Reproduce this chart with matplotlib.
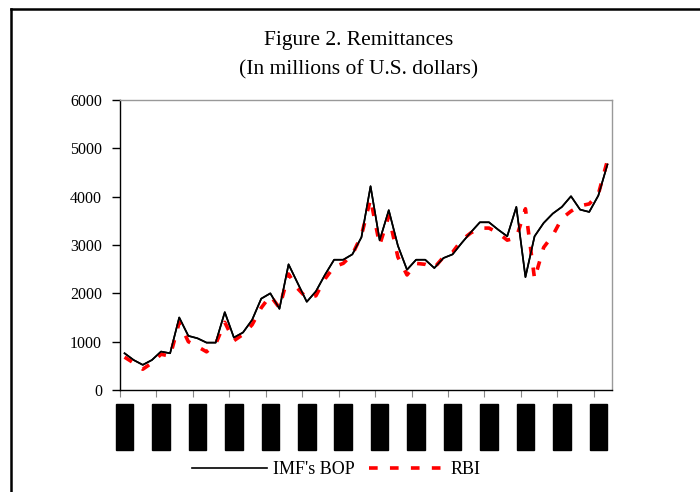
import matplotlib
matplotlib.use("Agg")
from matplotlib import pyplot as plt
from matplotlib.lines import Line2D

plt.rcParams['font.family'] = ['Liberation Serif', 'DejaVu Serif']

# quarterly remittances, millions of US$
imf_bop = [760, 620, 520, 620, 795, 760, 1500, 1120, 1070, 980,
           980, 1610, 1085, 1190, 1450, 1890, 2000, 1680, 2600, 2210,
           1825, 2040, 2385, 2695, 2695, 2806, 3160, 4216, 3097, 3720,
           2986, 2488, 2695, 2695, 2523, 2730, 2806, 3041, 3262, 3470,
           3470, 3318, 3180, 3788, 2336, 3180, 3456, 3650, 3788, 4009,
           3732, 3684, 4023, 4666]
rbi = [680, 560, 430, 560, 740, 700, 1400, 1000, 900, 790,
       950, 1400, 1020, 1150, 1350, 1700, 1950, 1700, 2400, 2100,
       1900, 1950, 2300, 2550, 2620, 2800, 3200, 3950, 3000, 3600,
       2750, 2380, 2620, 2600, 2530, 2750, 2850, 3100, 3250, 3350,
       3350, 3250, 3100, 3150, 3750, 2300, 2950, 3200, 3550, 3700,
       3810, 3850, 4050, 4750]
year_labels = [f"{y}Q1" for y in range(1990, 2004)]

x = list(range(len(imf_bop)))

fig = plt.figure(figsize=(7, 4.92), dpi=100)
ax = fig.add_axes([120/700, 1-390/492, 492/700, 290/492])

ax.plot(x, imf_bop, color='black', lw=1.2, label="IMF's BOP")
ax.plot(x, rbi, color='red', lw=2.6, linestyle=(0, (2.4, 3.4)),
        dash_capstyle='butt', label='RBI')
ax.plot(x, imf_bop, color='black', lw=1.2)

ax.set_xlim(-0.5, len(x) - 0.5)
ax.set_ylim(0, 6000)
ax.set_yticks(range(0, 6001, 1000))
ax.set_xticks([i - 0.5 for i in range(0, len(x), 4)])
ax.set_xticklabels([])
ax.tick_params(axis='y', direction='out', length=6, width=1, pad=7, labelsize=11.5)
ax.tick_params(axis='x', direction='out', length=5, width=0.8, colors='#888888')

for s in ['top', 'right']:
    ax.spines[s].set_color('#999999')
    ax.spines[s].set_linewidth(1)
for s in ['left', 'bottom']:
    ax.spines[s].set_color('black')
    ax.spines[s].set_linewidth(1)

# category labels (rendered as solid blocks in the source)
for i, lab in zip(range(0, len(x), 4), year_labels):
    ax.text(i, -0.058, lab, transform=ax.get_xaxis_transform(), rotation=90,
            ha='center', va='top', fontsize=9, color='black',
            bbox=dict(facecolor='black', edgecolor='black', pad=2))

fig.text(0.512, 1-40/492, "Figure 2. Remittances", ha='center', va='center', fontsize=15.5)
fig.text(0.512, 1-70/492, "(In millions of U.S. dollars)", ha='center', va='center', fontsize=15.5)

fig.legend(*ax.get_legend_handles_labels(), loc='center', bbox_to_anchor=(336/700, 1-470/492),
           ncol=2, frameon=False, fontsize=13, handlelength=4.2, handletextpad=0.3,
           columnspacing=0.8)

# outer frame (only top and left edges are inside the picture)
fig.add_artist(Line2D([11/700, 11/700], [0, 1-9/492], color='black', lw=1.8))
fig.add_artist(Line2D([11/700, 1], [1-9/492, 1-9/492], color='black', lw=1.8))

fig.savefig('out.png', dpi=100)
